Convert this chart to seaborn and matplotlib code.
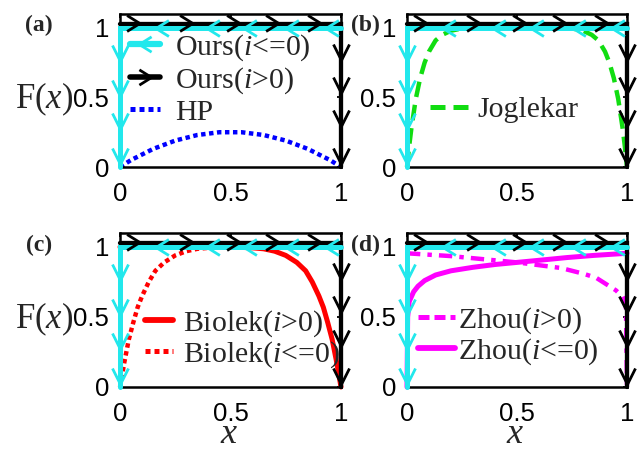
import matplotlib
matplotlib.use("Agg")
import matplotlib.pyplot as plt
import numpy as np
import pandas as pd
import seaborn as sns
from matplotlib.path import Path
from matplotlib.lines import Line2D

sns.set_style("white")
plt.rcParams["font.family"] = ["Liberation Sans", "DejaVu Sans"]
plt.rcParams["mathtext.fontset"] = "custom"
plt.rcParams["mathtext.rm"] = "Liberation Serif"
plt.rcParams["mathtext.it"] = "Liberation Serif:italic"

# ---------------- data ----------------
tick_vals = [0, 0.5, 1]
tick_labels = ["0", "0.5", "1"]
panel_labels = ["(a)", "(b)", "(c)", "(d)"]

# "Ours" switching paths
ours_pos_x = [0, 1, 1]          # i>0 : along top, then down right edge
ours_pos_y = [1.03, 1.03, 0]
ours_neg_x = [1, 0, 0]          # i<=0: along top, then down left edge
ours_neg_y = [1, 1, 0]
# direction arrows
arrow_pos_top_x = [0.06, 0.30, 0.51, 0.69, 0.88]
arrow_pos_top_y = [1.035, 1.035, 1.035, 1.035, 1.035]
arrow_neg_top_x = [0.19, 0.42, 0.59, 0.78, 0.96]
arrow_neg_top_y = [1, 1, 1, 1, 1]
arrow_pos_side_x = [1, 1, 1, 1]
arrow_pos_side_y = [0.83, 0.59, 0.35, 0.08]
arrow_neg_side_x = [0, 0, 0, 0]
arrow_neg_side_y = [0.82, 0.57, 0.33, 0.08]

# HP window
hp_x = [0, 0.05, 0.1, 0.15, 0.2, 0.25, 0.3, 0.35, 0.4, 0.45, 0.5,
        0.55, 0.6, 0.65, 0.7, 0.75, 0.8, 0.85, 0.9, 0.95, 1]
hp_F = [0, 0.05, 0.09, 0.13, 0.16, 0.19, 0.21, 0.23, 0.24, 0.25, 0.25,
        0.25, 0.24, 0.23, 0.21, 0.19, 0.16, 0.13, 0.09, 0.05, 0]

# Joglekar window
jog_x = [0, 0.01, 0.02, 0.04, 0.06, 0.08, 0.1, 0.13, 0.16, 0.2, 0.25, 0.3, 0.4,
         0.5, 0.6, 0.7, 0.75, 0.8, 0.84, 0.87, 0.9, 0.92, 0.94, 0.96, 0.98, 0.99, 1]
jog_F = [0, 0.15, 0.28, 0.49, 0.64, 0.75, 0.83, 0.91, 0.95, 0.98, 0.996, 0.999, 1,
         1, 1, 0.999, 0.996, 0.98, 0.95, 0.91, 0.83, 0.75, 0.64, 0.49, 0.28, 0.15, 0]

# Biolek window
bio_pos_x = [0, 0.2, 0.4, 0.5, 0.55, 0.6, 0.65, 0.7, 0.75, 0.8, 0.84, 0.87,
             0.9, 0.92, 0.94, 0.96, 0.98, 1]
bio_pos_F = [1, 1, 1, 0.999, 0.997, 0.994, 0.987, 0.97, 0.94, 0.89, 0.83, 0.75,
             0.65, 0.57, 0.46, 0.34, 0.18, 0]
bio_neg_x = [0, 0.02, 0.04, 0.06, 0.08, 0.1, 0.13, 0.16, 0.2, 0.25, 0.3, 0.35,
             0.4, 0.45, 0.5, 0.6, 0.8, 1]
bio_neg_F = [0, 0.18, 0.34, 0.46, 0.57, 0.65, 0.75, 0.83, 0.89, 0.94, 0.97, 0.987,
             0.994, 0.997, 0.999, 1, 1, 1]

# Zhou window
zhou_pos_x = [0, 0.1, 0.2, 0.3, 0.4, 0.5, 0.6, 0.7, 0.8, 0.86, 0.92, 0.95, 0.98, 0.995, 1]
zhou_pos_F = [0.955, 0.945, 0.935, 0.92, 0.905, 0.89, 0.87, 0.85, 0.81, 0.78, 0.72,
              0.69, 0.645, 0.6, 0]
zhou_neg_x = [0, 0.003, 0.01, 0.03, 0.05, 0.08, 0.13, 0.2, 0.3, 0.4, 0.5, 0.6, 0.73, 0.85, 1]
zhou_neg_F = [0, 0.5, 0.61, 0.68, 0.72, 0.76, 0.80, 0.83, 0.855, 0.875, 0.89, 0.905,
              0.925, 0.94, 0.955]

# ---------------- style ----------------
CYAN = "#22E8EC"
BLACK = "#000000"
BLUE = "#0000FF"
GREEN = "#11DD11"
RED = "#FF0000"
MAG = "#FF00FF"

chev_right = Path([(-0.4, 0.5), (0.4, 0.0), (-0.4, -0.5)],
                  [Path.MOVETO, Path.LINETO, Path.LINETO])
chev_left = Path([(0.4, 0.5), (-0.4, 0.0), (0.4, -0.5)],
                 [Path.MOVETO, Path.LINETO, Path.LINETO])
chev_down = Path([(-0.4, 0.4), (0.0, -0.4), (0.4, 0.4)],
                 [Path.MOVETO, Path.LINETO, Path.LINETO])

SERIF = ["Liberation Serif", "DejaVu Serif"]
LEG_FS = 21.5

fig = plt.figure(figsize=(6.41, 4.51), dpi=100)
W, H = 641, 451
boxes = {
    "a": (120, 14, 341, 167),
    "b": (407, 14, 627, 167),
    "c": (120, 233, 341, 387),
    "d": (407, 233, 627, 387),
}
axes = {}
for k, (l, t, r, b) in boxes.items():
    axes[k] = fig.add_axes([l / W, 1 - b / H, (r - l) / W, (b - t) / H])


def ours(ax):
    sns.lineplot(x=ours_pos_x, y=ours_pos_y, ax=ax, color=BLACK, lw=3.1,
                 sort=False, estimator=None, zorder=3, clip_on=False,
                 solid_joinstyle="miter")
    sns.lineplot(x=ours_neg_x, y=ours_neg_y, ax=ax, color=CYAN, lw=3.6,
                 sort=False, estimator=None, zorder=4, clip_on=False,
                 solid_joinstyle="miter")
    mk = dict(linestyle="", markersize=11.5, markerfacecolor="none",
              markeredgewidth=2.0, sort=False, estimator=None, clip_on=False)
    sns.lineplot(x=arrow_pos_top_x, y=arrow_pos_top_y, ax=ax, color=BLACK,
                 marker=chev_right, markeredgecolor=BLACK, zorder=5, **mk)
    sns.lineplot(x=arrow_pos_side_x, y=arrow_pos_side_y, ax=ax, color=BLACK,
                 marker=chev_down, markeredgecolor=BLACK, zorder=5, **mk)
    sns.lineplot(x=arrow_neg_top_x, y=arrow_neg_top_y, ax=ax, color=CYAN,
                 marker=chev_left, markeredgecolor=CYAN, zorder=6, **mk)
    sns.lineplot(x=arrow_neg_side_x, y=arrow_neg_side_y, ax=ax, color=CYAN,
                 marker=chev_down, markeredgecolor=CYAN, zorder=6, **mk)


def curve(ax, xs, ys, color, ls, lw):
    sns.lineplot(x=xs, y=ys, ax=ax, color=color, linestyle=ls, lw=lw,
                 sort=False, estimator=None, zorder=2, clip_on=False,
                 dash_capstyle="butt")


curve(axes["a"], hp_x, hp_F, BLUE, (0, (1.0, 0.8)), 3.2)
curve(axes["b"], jog_x, jog_F, GREEN, (0, (3.5, 1.8)), 3.2)
curve(axes["c"], bio_neg_x, bio_neg_F, RED, (0, (1.0, 0.8)), 3.2)
curve(axes["c"], bio_pos_x, bio_pos_F, RED, "-", 3.6)
curve(axes["d"], zhou_pos_x, zhou_pos_F, MAG, (0, (3.0, 1.6, 1.0, 1.6)), 3.2)
curve(axes["d"], zhou_neg_x, zhou_neg_F, MAG, "-", 3.6)

for k, ax in axes.items():
    ours(ax)
    ax.set_xlim(0, 1)
    ax.set_ylim(0, 1.1)
    ax.set_xticks(tick_vals)
    ax.set_xticklabels(tick_labels)
    ax.set_yticks(tick_vals)
    ax.set_yticklabels(tick_labels)
    ax.tick_params(direction="in", length=3, width=1.3, top=True, right=True,
                   labelsize=18.5, colors="k")
    ax.tick_params(axis="x", pad=10.5)
    ax.tick_params(axis="y", pad=8)
    for s in ax.spines.values():
        s.set_visible(True)
        s.set_color("k")
        s.set_linewidth(1.8)
    ax.set_xlabel("")
    ax.set_ylabel("")
    ax.set_facecolor("white")

for k in ["a", "c"]:
    ax = axes[k]
    ax.set_ylabel("F($x$)", rotation=0, fontsize=25, family=SERIF,
                  ha="center", va="center")
    ax.yaxis.set_label_coords(-0.345, 0.44)
for k in ["c", "d"]:
    ax = axes[k]
    ax.set_xlabel("x", fontsize=26, family=SERIF, fontstyle="italic",
                  va="baseline")
    ax.xaxis.set_label_coords(0.49, -0.364)

# legends
def leg(ax, handles, labels, anchor, hl, htp, ls=0.0):
    lg = ax.legend(handles, labels, loc="center left", bbox_to_anchor=anchor,
                   frameon=False, borderpad=0, borderaxespad=0,
                   handlelength=hl, handletextpad=htp, labelspacing=ls,
                   prop={"family": SERIF, "size": LEG_FS})
    lg.set_zorder(7)
    return lg

h_neg = Line2D([], [], color=CYAN, lw=4.5, marker=chev_left, markersize=11,
               markerfacecolor="none", markeredgecolor=CYAN, markeredgewidth=2)
h_pos = Line2D([], [], color=BLACK, lw=4.0, marker=chev_right, markersize=11,
               markerfacecolor="none", markeredgecolor=BLACK, markeredgewidth=2)
h_hp = Line2D([], [], color=BLUE, lw=3.6, linestyle=(0, (1.0, 0.8)))
leg(axes["a"], [h_neg, h_pos, h_hp],
    ["Ours($i$<=0)", "Ours($i$>0)", "HP"], (0.045, 0.575), 1.0, 0.52, 0.08)

h_jog = Line2D([], [], color=GREEN, lw=3.6, linestyle=(0, (3.0, 1.6)))
leg(axes["b"], [h_jog], ["Joglekar"], (0.105, 0.373), 1.3, 0.28)

h_bp = Line2D([], [], color=RED, lw=4.2, linestyle="-")
h_bn = Line2D([], [], color=RED, lw=3.6, linestyle=(0, (1.0, 0.8)))
leg(axes["c"], [h_bp, h_bn], ["Biolek($i$>0)", "Biolek($i$<=0)"],
    (0.113, 0.312), 0.95, 0.33)

h_zp = Line2D([], [], color=MAG, lw=3.6, linestyle=(0, (2.2, 1.0)))
h_zn = Line2D([], [], color=MAG, lw=4.2, linestyle="-")
leg(axes["d"], [h_zp, h_zn], ["Zhou($i$>0)", "Zhou($i$<=0)"],
    (0.05, 0.331), 1.25, 0.08)

# panel labels
label_pos = {"(a)": (39, 25), "(b)": (365, 25), "(c)": (39, 245), "(d)": (365, 245)}
for lab in panel_labels:
    px, py = label_pos[lab]
    fig.text(px / W, 1 - py / H, lab, fontsize=17, fontweight="bold",
             family=SERIF, ha="center", va="center")

fig.savefig("out.png", dpi=100)
